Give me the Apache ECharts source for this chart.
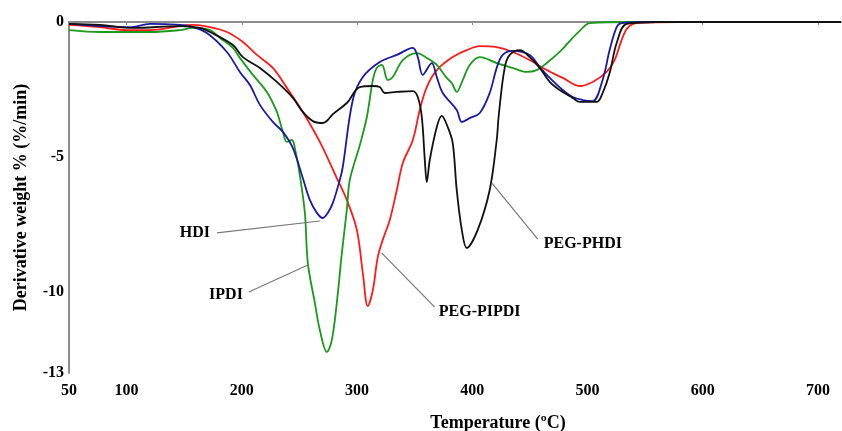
<!DOCTYPE html>
<html><head><meta charset="utf-8">
<script src="https://cdn.jsdelivr.net/npm/echarts@6/dist/echarts.min.js"></script>
<style>html,body{margin:0;padding:0;background:#fff}#c{width:842px;height:431px}</style>
</head><body><div id="c"></div>
<script>
// Temperature (°C) and derivative weight (%/min)
const hdiT = [50,76.9,102.9,120.3,146.3,157.5,169.7,187,198.3,207,215.7,226.9,235.6,244.3,252.9,259,265.1,270.3,274.6,279,285,287.6,296.3,305,319.7,334.5,348.4,352.7,357,364.8,369.2,374.4,386.5,390.9,397.8,406.5,415.1,421.2,426.4,435.1,449.8,458.5,467.2,478.5,487.1,495.8,504.5,513.1,519.2,525.3,529.6,560,720];
const hdiV = [-0.07,-0.15,-0.19,-0.07,-0.11,-0.19,-0.41,-1.11,-1.85,-2.33,-3.07,-3.70,-4.07,-4.67,-5.78,-6.59,-7.07,-7.26,-7.07,-6.70,-5.85,-5.37,-2.89,-2.04,-1.48,-1.22,-0.96,-1.30,-1.96,-1.52,-2.04,-2.63,-3.26,-3.70,-3.56,-3.37,-2.63,-1.70,-1.22,-1.07,-1.22,-1.67,-2.07,-2.52,-2.78,-2.89,-2.93,-2.15,-1.04,-0.19,-0.04,0,0];

const ipdiT = [50,76.9,120.3,146.3,157.5,172.3,181,192.2,198.3,209.6,221.7,230.4,235.6,239.1,243.4,246,250.3,254.7,257.3,263.4,267.7,273.8,278.1,282.4,286.8,291.1,293.7,302.4,308.5,313.7,317.1,321.5,326.7,331,339.7,351.8,360.5,369.2,377.8,382.2,386.5,391.7,397.8,406.5,421.2,435.1,447.2,455.9,464.6,475.8,487.1,493.2,501.9,540,720];
const ipdiV = [-0.30,-0.37,-0.37,-0.30,-0.22,-0.30,-0.59,-0.96,-1.33,-1.96,-2.59,-3.33,-4.07,-4.44,-4.37,-4.67,-5.67,-7.07,-8.93,-10.41,-11.41,-12.22,-11.78,-10.41,-8.56,-6.96,-5.85,-4.56,-3.52,-2.15,-1.70,-1.59,-2.15,-2.04,-1.41,-1.15,-1.33,-1.59,-2.07,-2.26,-2.59,-2.15,-1.59,-1.30,-1.52,-1.70,-1.85,-1.78,-1.52,-1.11,-0.59,-0.33,-0.04,0,0];

const pipdiT = [50,76.9,100.3,120.3,146.3,157.5,172.3,187,200.9,213.1,226.9,239.1,252.9,267.7,282.4,291.1,299.8,305,309.3,313.7,318,322.3,328.4,334.5,339.7,348.4,354.4,360.5,369.2,383,395.2,406.5,421.2,435.1,449.8,464.6,478.5,493.2,504.5,516.6,523.5,529.6,534.8,542.6,580,720];
const pipdiV = [-0.11,-0.19,-0.30,-0.30,-0.15,-0.11,-0.19,-0.37,-0.74,-1.22,-1.70,-2.44,-3.33,-4.44,-5.78,-6.59,-7.70,-9.30,-10.52,-9.93,-8.70,-8.07,-7.33,-6.22,-5.22,-4.37,-3.26,-2.41,-1.78,-1.30,-1.04,-0.89,-0.93,-1.11,-1.41,-1.78,-2.07,-2.37,-2.22,-1.85,-1.41,-0.67,-0.22,-0.04,0,0];

const phdiT = [50,76.9,105.5,146.3,163.6,172.3,192.2,200.9,215.7,230.4,244.3,252.9,261.6,270.3,274.6,279,291.1,302.4,313.7,319.7,324.1,334.5,348.4,352.7,356.2,358.8,360.5,363.1,369.2,373.5,378.7,383,386.5,390.9,395.2,404.7,415.1,421.2,423,428.1,432.5,441.2,449.8,458.5,467.2,475.8,487.1,493.2,507.9,513.1,519.2,525.3,534,560,720];
const phdiV = [-0.07,-0.11,-0.22,-0.15,-0.22,-0.37,-0.85,-1.30,-1.70,-2.22,-2.81,-3.33,-3.67,-3.74,-3.63,-3.41,-3.00,-2.41,-2.37,-2.41,-2.63,-2.59,-2.56,-2.78,-3.52,-5.11,-5.93,-5.11,-3.89,-3.48,-3.89,-4.48,-6.22,-7.70,-8.37,-7.70,-6.22,-4.37,-3.44,-1.70,-1.22,-1.04,-1.30,-1.70,-2.22,-2.52,-2.81,-2.96,-2.96,-2.63,-1.89,-0.78,-0.07,0,0];

const xTicks = [50,100,200,300,400,500,600,700];
const yTicks = [0,-5,-10,-13];

// annotation texts and leader lines (data coordinates)
const annText = ['HDI','IPDI','PEG-PIPDI','PEG-PHDI'];
const annAt = [[174.9,-7.81],[203.5,-10.11],[368.3,-10.75],[459.4,-8.2]];
const annSide = ['left','left','right','right'];
const leadFrom = [[178.4,-7.81],[206.1,-10.0],[321.5,-8.56],[416.9,-5.96]];
const leadTo = [[267.7,-7.37],[257.3,-9.0],[367.4,-10.56],[456.8,-8.04]];

const zip = (a,b)=>a.map((x,i)=>[x,b[i]]);
const font = '"Liberation Serif","Times New Roman",serif';

const chart = echarts.init(document.getElementById('c'));
const line = (name,t,v,color)=>({name,type:'line',data:zip(t,v),showSymbol:false,smooth:0.35,
  lineStyle:{color,width:1.8},itemStyle:{color},z:3});

chart.setOption({
  animation:false,
  grid:{left:69,right:1,top:22,bottom:58,outerBoundsMode:'none',containLabel:false},
  xAxis:{type:'value',min:50,max:720,
    name:'Temperature (ºC)',nameLocation:'middle',nameGap:41,
    nameTextStyle:{fontFamily:font,fontWeight:'bold',fontSize:18,color:'#000',padding:[0,0,0,86]},
    axisLine:{lineStyle:{color:'#8c8c8c',width:2}},
    axisTick:{show:true,length:3,lineStyle:{color:'#8c8c8c'},customValues:xTicks.slice(1)},
    axisLabel:{customValues:xTicks,fontFamily:font,fontWeight:'bold',fontSize:16,color:'#000',margin:10},
    splitLine:{show:false}},
  yAxis:{type:'value',min:-13,max:0,
    name:'Derivative weight % (%/min)',nameLocation:'middle',nameGap:39,
    nameTextStyle:{fontFamily:font,fontWeight:'bold',fontSize:18,color:'#000'},
    axisLine:{show:true,lineStyle:{color:'#8c8c8c',width:2}},
    axisTick:{show:false},
    axisLabel:{customValues:yTicks,fontFamily:font,fontWeight:'bold',fontSize:16,color:'#000',margin:5},
    splitLine:{show:false}},
  series:[
    line('PEG-PIPDI',pipdiT,pipdiV,'#ff1a1a'),
    line('IPDI',ipdiT,ipdiV,'#1a9a1a'),
    line('HDI',hdiT,hdiV,'#1a1aa0'),
    line('PEG-PHDI',phdiT,phdiV,'#111111'),
    {type:'scatter',data:annAt.map((p,i)=>({value:p,label:{position:annSide[i]}})),symbolSize:0,silent:true,
      itemStyle:{opacity:1},
      label:{show:true,distance:3,formatter:(p)=>annText[p.dataIndex],fontFamily:font,fontWeight:'bold',fontSize:16,color:'#000',opacity:1},
      markLine:{silent:true,symbol:['none','none'],label:{show:false},
        lineStyle:{color:'#777',width:1.2,type:'solid',opacity:1},
        data:leadFrom.map((f,i)=>[{coord:f},{coord:leadTo[i]}])}}
  ]
});
</script></body></html>
